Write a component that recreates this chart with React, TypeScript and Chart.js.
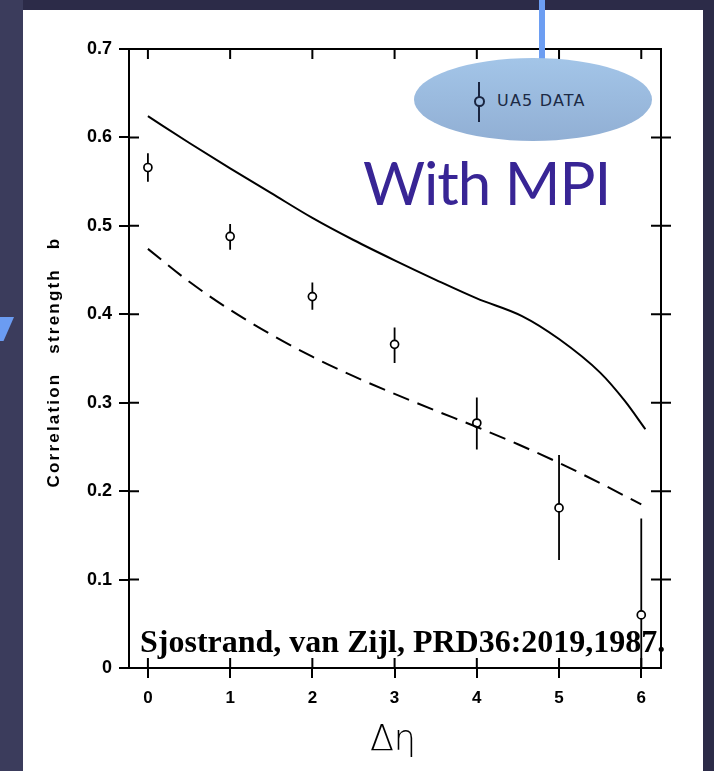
import React, { useEffect, useRef } from "react";
import { Chart, registerables } from "chart.js";

Chart.register(...registerables);

// ---- data ----
const deltaEta = [0, 1, 2, 3, 4, 5, 6];
const ua5B = [0.566, 0.488, 0.42, 0.366, 0.277, 0.181, 0.06];
const ua5High = [0.582, 0.502, 0.436, 0.385, 0.306, 0.241, 0.169];
const ua5Low = [0.55, 0.473, 0.405, 0.345, 0.247, 0.122, 0.0];

const mpiX = [0, 0.5, 1, 1.5, 2, 2.5, 3, 3.5, 4, 4.55, 5, 5.5, 5.8, 6.05];
const mpiY = [0.624, 0.594, 0.565, 0.537, 0.509, 0.484, 0.461, 0.439, 0.418, 0.398, 0.372, 0.334, 0.302, 0.27];

const noMpiX = [0, 0.5, 1, 1.5, 2, 2.5, 3, 3.5, 4, 4.5, 5, 5.5, 6];
const noMpiY = [0.474, 0.437, 0.405, 0.377, 0.352, 0.33, 0.31, 0.291, 0.2725, 0.253, 0.232, 0.209, 0.185];

const xTickValues = [0, 1, 2, 3, 4, 5, 6];
const xTickLabels = ["0", "1", "2", "3", "4", "5", "6"];
const yTickValues = [0, 0.1, 0.2, 0.3, 0.4, 0.5, 0.6, 0.7];
const yTickLabels = ["0", "0.1", "0.2", "0.3", "0.4", "0.5", "0.6", "0.7"];

const X_MIN = -0.23;
const X_MAX = 6.24;
const Y_MIN = 0;
const Y_MAX = 0.7;

const TICK_FONT = "'Liberation Sans', Arial, sans-serif";

const framePlugin = {
  id: "frame",
  beforeDatasetsDraw(chart: any) {
    const { ctx, chartArea: a, scales } = chart;
    const x = scales.x;
    const y = scales.y;
    ctx.save();
    ctx.strokeStyle = "#000";
    ctx.lineWidth = 2;
    ctx.beginPath();
    // top & right axes
    ctx.moveTo(a.left, a.top);
    ctx.lineTo(a.right, a.top);
    ctx.lineTo(a.right, a.bottom);
    // inner ticks left / right
    yTickValues.forEach((v) => {
      const py = y.getPixelForValue(v);
      if (v > 0 && v < 0.7) {
        ctx.moveTo(a.left, py);
        ctx.lineTo(a.left + 10, py);
        ctx.moveTo(a.right - 10, py);
        ctx.lineTo(a.right + 10, py);
      }
    });
    // inner ticks bottom / top
    xTickValues.forEach((v) => {
      const px = x.getPixelForValue(v);
      ctx.moveTo(px, a.bottom);
      ctx.lineTo(px, a.bottom - 10);
      ctx.moveTo(px, a.top);
      ctx.lineTo(px, a.top + 10);
    });
    ctx.stroke();
    // error bars
    ctx.lineWidth = 1.8;
    ctx.beginPath();
    deltaEta.forEach((xv, i) => {
      const px = x.getPixelForValue(xv);
      ctx.moveTo(px, y.getPixelForValue(ua5Low[i]));
      ctx.lineTo(px, y.getPixelForValue(ua5High[i]));
    });
    ctx.stroke();
    ctx.restore();
  },
};

export default function App() {
  const canvasRef = useRef<HTMLCanvasElement | null>(null);

  useEffect(() => {
    const canvas = canvasRef.current;
    if (!canvas) return;
    const chart = new Chart(canvas, {
      type: "scatter",
      data: {
        datasets: [
          {
            type: "line",
            label: "with MPI",
            data: mpiX.map((xv, i) => ({ x: xv, y: mpiY[i] })),
            borderColor: "#000",
            borderWidth: 2,
            pointRadius: 0,
            cubicInterpolationMode: "monotone",
            fill: false,
          } as any,
          {
            type: "line",
            label: "without MPI",
            data: noMpiX.map((xv, i) => ({ x: xv, y: noMpiY[i] })),
            borderColor: "#000",
            borderWidth: 2,
            borderDash: [17, 9],
            pointRadius: 0,
            cubicInterpolationMode: "monotone",
            fill: false,
          } as any,
          {
            type: "scatter",
            label: "UA5 DATA",
            data: deltaEta.map((xv, i) => ({ x: xv, y: ua5B[i] })),
            pointRadius: 4,
            pointBackgroundColor: "#fff",
            pointBorderColor: "#000",
            pointBorderWidth: 1.7,
          } as any,
        ],
      },
      options: {
        animation: false,
        responsive: false,
        devicePixelRatio: 1,
        events: [],
        layout: { padding: { left: 0, top: 49, right: 53, bottom: 0 } },
        plugins: { legend: { display: false }, tooltip: { enabled: false } },
        scales: {
          x: {
            type: "linear",
            position: "bottom",
            min: X_MIN,
            max: X_MAX,
            afterBuildTicks: (s: any) => {
              s.ticks = xTickValues.map((v) => ({ value: v }));
            },
            afterFit: (s: any) => {
              s.height = 103;
            },
            ticks: {
              callback: (_v: any, i: number) => xTickLabels[i],
              font: { family: TICK_FONT, size: 17, weight: "bold" },
              color: "#000",
              padding: 10,
              maxRotation: 0,
              autoSkip: false,
            },
            grid: {
              display: true,
              drawOnChartArea: false,
              drawTicks: true,
              tickLength: 10,
              color: "#000",
              lineWidth: 2,
            },
            border: { display: true, color: "#000", width: 2 },
          },
          y: {
            type: "linear",
            position: "left",
            min: Y_MIN,
            max: Y_MAX,
            afterBuildTicks: (s: any) => {
              s.ticks = yTickValues.map((v) => ({ value: v }));
            },
            afterFit: (s: any) => {
              s.width = 129;
            },
            ticks: {
              callback: (_v: any, i: number) => yTickLabels[i],
              font: { family: TICK_FONT, size: 18, weight: "bold" },
              color: "#000",
              padding: 7,
              autoSkip: false,
            },
            grid: {
              display: true,
              drawOnChartArea: false,
              drawTicks: true,
              tickLength: 10,
              color: "#000",
              lineWidth: 2,
            },
            border: { display: true, color: "#000", width: 2 },
          },
        },
      } as any,
      plugins: [framePlugin],
    });
    return () => chart.destroy();
  }, []);

  const abs: React.CSSProperties = { position: "absolute" };

  return (
    <div
      style={{
        position: "fixed",
        left: 0,
        top: 0,
        width: 714,
        height: 771,
        overflow: "hidden",
        background: "#2c2b48",
      }}
    >
      <div style={{ ...abs, left: 0, top: 0, width: 23, height: 771, background: "#3b3c5c" }} />
      <div
        style={{
          ...abs,
          left: 0,
          top: 317,
          width: 14,
          height: 24,
          background: "#6b9cf2",
          clipPath: "polygon(0 0, 100% 0, 25% 100%, 0 100%)",
        }}
      />
      <div style={{ ...abs, left: 23, top: 10, width: 680, height: 761, background: "#ffffff" }} />
      <canvas ref={canvasRef} width={714} height={771} style={{ ...abs, left: 0, top: 0 }} />
      {/* callout line */}
      <div style={{ ...abs, left: 539, top: 0, width: 6, height: 59, background: "#6d9ef2" }} />
      {/* legend ellipse */}
      <div
        style={{
          ...abs,
          left: 414,
          top: 58,
          width: 238,
          height: 83,
          borderRadius: "50%",
          background: "linear-gradient(#a3c5e8, #91afd4)",
        }}
      />
      <div style={{ ...abs, left: 478, top: 82, width: 2, height: 40, background: "#1a2540" }} />
      <div
        style={{
          ...abs,
          left: 474,
          top: 96,
          width: 7,
          height: 7,
          border: "2px solid #1a2540",
          borderRadius: "50%",
          background: "#9bbbe0",
        }}
      />
      <div
        style={{
          ...abs,
          left: 497,
          top: 93,
          fontFamily: "'DejaVu Sans', sans-serif",
          fontSize: 16,
          lineHeight: "16px",
          letterSpacing: 1.2,
          color: "#1c2a45",
          whiteSpace: "nowrap",
        }}
      >
        UA5 DATA
      </div>
      {/* With MPI */}
      <div
        style={{
          ...abs,
          left: 363,
          top: 152,
          fontFamily: "Lato, sans-serif",
          fontSize: 60,
          lineHeight: "60px",
          letterSpacing: -1,
          color: "#382595",
          whiteSpace: "nowrap",
        }}
      >
        With MPI
      </div>
      {/* citation */}
      <div
        style={{
          ...abs,
          left: 140,
          top: 626,
          fontFamily: "'Liberation Serif', 'Times New Roman', serif",
          fontWeight: "bold",
          fontSize: 32,
          lineHeight: "31px",
          color: "#000",
          whiteSpace: "nowrap",
        }}
      >
        Sjostrand, van Zijl, PRD36:2019,1987.
      </div>
      {/* y title */}
      <div
        style={{
          ...abs,
          left: 54 - 150,
          top: 362 - 11,
          width: 300,
          height: 22,
          lineHeight: "22px",
          textAlign: "center",
          transform: "rotate(-90deg)",
          transformOrigin: "50% 50%",
          fontFamily: TICK_FONT,
          fontWeight: "bold",
          fontSize: 17,
          letterSpacing: 2.2,
          wordSpacing: 12,
          color: "#000",
          whiteSpace: "nowrap",
        }}
      >
        Correlation strength b
      </div>
      {/* x title */}
      <div
        style={{
          ...abs,
          left: 293,
          top: 718,
          width: 200,
          textAlign: "center",
          fontFamily: "'DejaVu Sans', sans-serif",
          fontWeight: 200,
          fontSize: 35,
          lineHeight: "40px",
          color: "#000",
          whiteSpace: "nowrap",
        }}
      >
        Δη
      </div>
    </div>
  );
}
